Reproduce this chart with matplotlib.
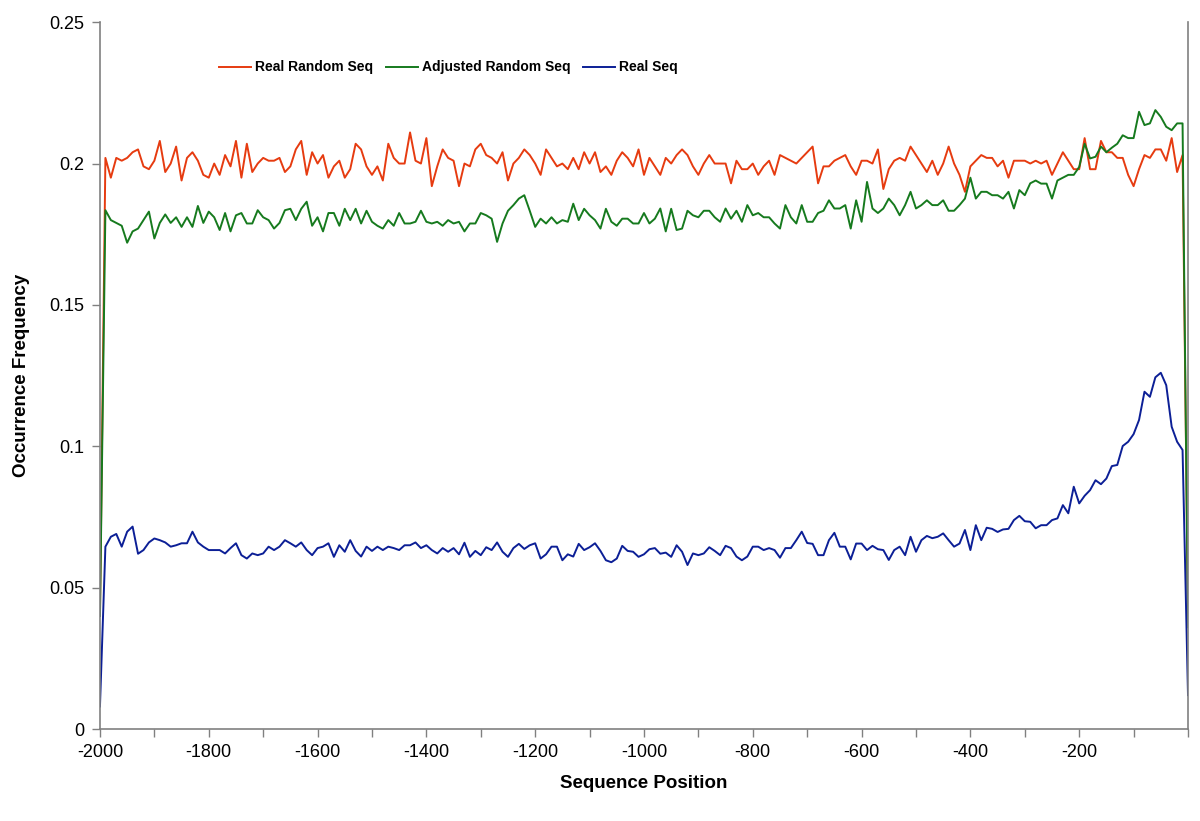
import numpy as np
import matplotlib
matplotlib.use("Agg")
import matplotlib.pyplot as plt
from matplotlib.ticker import FixedLocator, FixedFormatter

plt.rcParams['font.family'] = ['Liberation Sans', 'DejaVu Sans']

# sequence positions, one reading every 10 bases
position = np.arange(-2000, 1, 10)

# values, 10 per row (last row has the end point)
real_random = [
    0.040, 0.202, 0.195, 0.202, 0.201, 0.202, 0.204, 0.205, 0.199, 0.198,
    0.201, 0.208, 0.197, 0.200, 0.206, 0.194, 0.202, 0.204, 0.201, 0.196,
    0.195, 0.200, 0.196, 0.203, 0.199, 0.208, 0.195, 0.207, 0.197, 0.200,
    0.202, 0.201, 0.201, 0.202, 0.197, 0.199, 0.205, 0.208, 0.196, 0.204,
    0.200, 0.203, 0.195, 0.199, 0.201, 0.195, 0.198, 0.207, 0.205, 0.199,
    0.196, 0.199, 0.194, 0.207, 0.202, 0.200, 0.200, 0.211, 0.201, 0.200,
    0.209, 0.192, 0.199, 0.205, 0.202, 0.201, 0.192, 0.200, 0.199, 0.205,
    0.207, 0.203, 0.202, 0.200, 0.204, 0.194, 0.200, 0.202, 0.205, 0.203,
    0.200, 0.196, 0.205, 0.202, 0.199, 0.200, 0.198, 0.202, 0.198, 0.204,
    0.200, 0.204, 0.197, 0.199, 0.196, 0.201, 0.204, 0.202, 0.199, 0.205,
    0.196, 0.202, 0.199, 0.196, 0.202, 0.200, 0.203, 0.205, 0.203, 0.199,
    0.196, 0.200, 0.203, 0.200, 0.200, 0.200, 0.193, 0.201, 0.198, 0.198,
    0.200, 0.196, 0.199, 0.201, 0.196, 0.203, 0.202, 0.201, 0.200, 0.202,
    0.204, 0.206, 0.193, 0.199, 0.199, 0.201, 0.202, 0.203, 0.199, 0.196,
    0.201, 0.201, 0.200, 0.205, 0.191, 0.198, 0.201, 0.202, 0.201, 0.206,
    0.203, 0.200, 0.197, 0.201, 0.196, 0.200, 0.206, 0.200, 0.196, 0.190,
    0.199, 0.201, 0.203, 0.202, 0.202, 0.199, 0.201, 0.195, 0.201, 0.201,
    0.201, 0.200, 0.201, 0.200, 0.201, 0.196, 0.200, 0.204, 0.201, 0.198,
    0.198, 0.209, 0.198, 0.198, 0.208, 0.204, 0.204, 0.202, 0.202, 0.196,
    0.192, 0.198, 0.203, 0.202, 0.205, 0.205, 0.201, 0.209, 0.197, 0.203,
    0.040,
]

adjusted_random = [
    0.040, 0.1835, 0.180, 0.179, 0.178, 0.172, 0.176, 0.177, 0.180, 0.183,
    0.1735, 0.179, 0.182, 0.179, 0.181, 0.1776, 0.181, 0.1776, 0.185, 0.179,
    0.183, 0.181, 0.1765, 0.1825, 0.176, 0.1817, 0.1825, 0.1788, 0.1788, 0.1835,
    0.181, 0.180, 0.177, 0.179, 0.1835, 0.184, 0.180, 0.184, 0.1865, 0.178,
    0.181, 0.176, 0.1825, 0.1825, 0.178, 0.184, 0.180, 0.184, 0.1788, 0.1833,
    0.1794, 0.178, 0.177, 0.180, 0.178, 0.1825, 0.1788, 0.1788, 0.1794, 0.1833,
    0.1794, 0.1788, 0.1794, 0.178, 0.180, 0.1788, 0.1794, 0.176, 0.1788, 0.1788,
    0.1825, 0.1817, 0.1805, 0.1723, 0.1788, 0.1833, 0.1853, 0.1876, 0.1888, 0.1833,
    0.1776, 0.1805, 0.1788, 0.181, 0.1788, 0.180, 0.1794, 0.1858, 0.180, 0.184,
    0.1817, 0.180, 0.177, 0.184, 0.1794, 0.178, 0.1805, 0.1805, 0.1788, 0.1788,
    0.1825, 0.1788, 0.1805, 0.1841, 0.176, 0.184, 0.1765, 0.177, 0.1833, 0.1817,
    0.181, 0.1833, 0.1833, 0.181, 0.1794, 0.1841, 0.1805, 0.1833, 0.1794, 0.1853,
    0.1817, 0.1825, 0.181, 0.181, 0.1788, 0.177, 0.1853, 0.181, 0.1788, 0.1853,
    0.1794, 0.1794, 0.1825, 0.1833, 0.187, 0.1841, 0.1841, 0.1853, 0.177, 0.187,
    0.1794, 0.1935, 0.1841, 0.1825, 0.1841, 0.1876, 0.1853, 0.1817, 0.1853, 0.190,
    0.1841, 0.1853, 0.187, 0.1853, 0.1853, 0.187, 0.1833, 0.1833, 0.1853, 0.1876,
    0.195, 0.1876, 0.190, 0.190, 0.1888, 0.1888, 0.1876, 0.190, 0.1841, 0.1906,
    0.1888, 0.193, 0.194, 0.1929, 0.1929, 0.1876, 0.194, 0.195, 0.196, 0.196,
    0.1988, 0.207, 0.2018, 0.2024, 0.206, 0.204, 0.2056, 0.207, 0.210, 0.209,
    0.209, 0.2183, 0.2136, 0.2142, 0.2189, 0.2165, 0.213, 0.2118, 0.2142, 0.2142,
    0.036,
]

real_seq = [
    0.008, 0.0645, 0.068, 0.069, 0.0645, 0.0698, 0.0716, 0.062, 0.0633, 0.066,
    0.0674, 0.0668, 0.066, 0.0645, 0.065, 0.0657, 0.0657, 0.0698, 0.066, 0.0645,
    0.0633, 0.0633, 0.0633, 0.0621, 0.064, 0.0657, 0.0615, 0.0603, 0.0621, 0.0615,
    0.0621, 0.0645, 0.0633, 0.0645, 0.0668, 0.0657, 0.0645, 0.066, 0.0633, 0.0615,
    0.064, 0.0645, 0.0657, 0.0609, 0.065, 0.0627, 0.0668, 0.063, 0.061, 0.0645,
    0.063, 0.0645, 0.0633, 0.0645, 0.064, 0.0633, 0.065, 0.065, 0.066, 0.064,
    0.065, 0.0633, 0.0621, 0.064, 0.0627, 0.064, 0.0618, 0.0659, 0.0609, 0.063,
    0.0615, 0.0643, 0.0633, 0.066, 0.0627, 0.0609, 0.064, 0.0655, 0.0637, 0.065,
    0.0657, 0.0603, 0.0618, 0.0645, 0.0645, 0.0597, 0.0618, 0.061, 0.0655, 0.0633,
    0.0643, 0.0657, 0.063, 0.0597, 0.059, 0.0603, 0.0648, 0.063, 0.0627, 0.0609,
    0.0618, 0.0636, 0.064, 0.062, 0.0624, 0.0609, 0.065, 0.0627, 0.058, 0.0621,
    0.0615, 0.0621, 0.0643, 0.063, 0.0615, 0.0648, 0.064, 0.061, 0.0597, 0.061,
    0.0645, 0.0645, 0.0633, 0.064, 0.0633, 0.0606, 0.064, 0.064, 0.0668, 0.0698,
    0.0658, 0.0655, 0.0615, 0.0615, 0.0668, 0.0694, 0.0645, 0.0645, 0.060, 0.0656,
    0.0656, 0.0633, 0.0648, 0.0636, 0.0633, 0.0598, 0.0633, 0.0645, 0.0615, 0.068,
    0.0627, 0.0668, 0.0683, 0.0675, 0.068, 0.0692, 0.0668, 0.0645, 0.0656, 0.0704,
    0.0633, 0.0721, 0.0668, 0.0712, 0.0708, 0.0697, 0.0706, 0.0708, 0.0739, 0.0754,
    0.0735, 0.0733, 0.071, 0.0721, 0.0721, 0.0739, 0.0745, 0.0792, 0.0763, 0.0857,
    0.0798, 0.0825, 0.0845, 0.088, 0.0866, 0.0886, 0.093, 0.0934, 0.1001, 0.1016,
    0.1043, 0.1093, 0.1193, 0.1175, 0.1244, 0.126, 0.1216, 0.1069, 0.1016, 0.0987,
    0.012,
]

x_ticks = list(range(-2000, 1, 100))
x_tick_labels = [str(t) if (t % 200 == 0 and t != 0) else "" for t in x_ticks]
y_ticks = [0, 0.05, 0.1, 0.15, 0.2, 0.25]
y_tick_labels = ["0", "0.05", "0.1", "0.15", "0.2", "0.25"]

fig = plt.figure(figsize=(12, 8.21), dpi=100)
ax = fig.add_axes([0.0833, 0.112, 0.9067, 0.861])

ax.plot(position, real_random, color="#E63B10", lw=1.4, label="Real Random Seq")
ax.plot(position, adjusted_random, color="#167A1E", lw=1.4, label="Adjusted Random Seq")
ax.plot(position, real_seq, color="#0C1F96", lw=1.4, label="Real Seq")

ax.set_xlim(-2000, 0)
ax.set_ylim(0, 0.25)

ax.xaxis.set_major_locator(FixedLocator(x_ticks))
ax.xaxis.set_major_formatter(FixedFormatter(x_tick_labels))
ax.yaxis.set_major_locator(FixedLocator(y_ticks))
ax.yaxis.set_major_formatter(FixedFormatter(y_tick_labels))
ax.tick_params(axis="both", direction="out", length=6, width=1, color="#808080",
               labelsize=13, pad=5)

ax.spines["top"].set_visible(False)
for s in ["left", "bottom", "right"]:
    ax.spines[s].set_color("#808080")
    ax.spines[s].set_linewidth(1.2)

ax.set_xlabel("Sequence Position", fontsize=13.5, fontweight="bold", labelpad=10)
ax.set_ylabel("Occurrence Frequency", fontsize=13.5, fontweight="bold", labelpad=14)

ax.legend(loc="center left", bbox_to_anchor=(0.098, 0.936), ncol=3, frameon=False,
          prop={"weight": "bold", "size": 10}, handlelength=2.3, columnspacing=0.9,
          handletextpad=0.3)

fig.savefig("out.png", dpi=100)
